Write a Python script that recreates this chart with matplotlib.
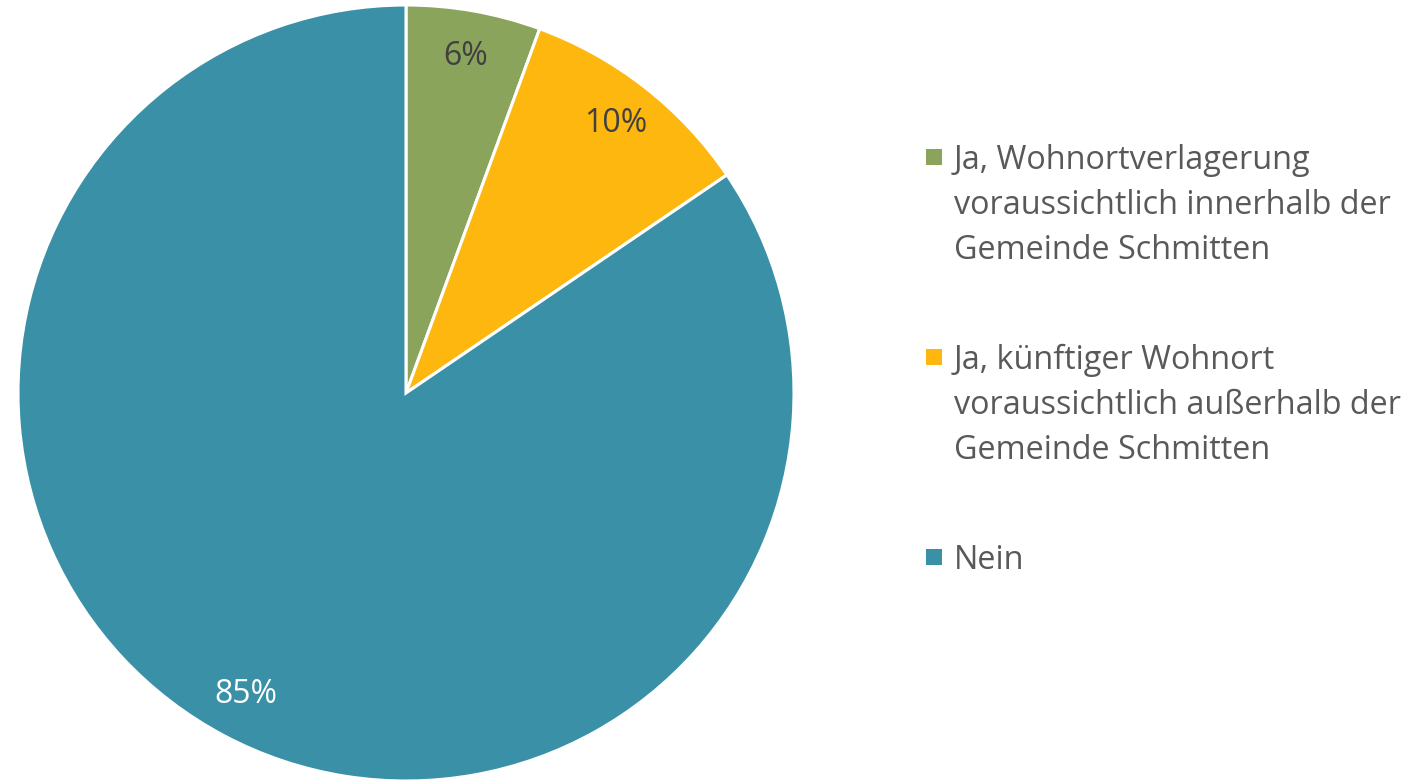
import matplotlib
matplotlib.use("Agg")
import matplotlib.pyplot as plt
from matplotlib.patches import Rectangle

# Data
categories = [
    "Ja, Wohnortverlagerung\nvoraussichtlich innerhalb der\nGemeinde Schmitten",
    "Ja, künftiger Wohnort\nvoraussichtlich außerhalb der\nGemeinde Schmitten",
    "Nein",
]
shares = [5.6, 9.9, 84.5]
pct_labels = ["6%", "10%", "85%"]
colors = ["#8BA45C", "#FDB70F", "#3A91A7"]
pct_colors = ["#404040", "#404040", "#FFFFFF"]

plt.rcParams['font.family'] = ['Open Sans', 'DejaVu Sans']

W, H = 1409, 781
fig = plt.figure(figsize=(W / 100, H / 100), dpi=100)

# pie centre (406, 393) px, radius 388 px
cx, cy, r = 406, 393, 388
ax = fig.add_axes([(cx - r) / W, (H - cy - r) / H, 2 * r / W, 2 * r / H])

wedges, texts, autotexts = ax.pie(
    shares, colors=colors, startangle=90, counterclock=False,
    autopct='%1.0f%%', pctdistance=0.88,
    wedgeprops=dict(edgecolor='white', linewidth=2.2),
    textprops=dict(fontsize=23),
)
for t, s, c in zip(autotexts, pct_labels, pct_colors):
    t.set_text(s)
    t.set_color(c)
ax.set_xlim(-1, 1)
ax.set_ylim(-1, 1)
ax.set_aspect('equal')

# legend, drawn by hand to keep the square on the first line
for i, (lab, col) in enumerate(zip(categories, colors)):
    y_mid = 157 + 200 * i
    fig.patches.append(Rectangle(((926) / W, (H - y_mid - 8) / H), 16 / W, 16 / H,
                                 transform=fig.transFigure, facecolor=col,
                                 edgecolor='none'))
    fig.text(954 / W, (H - y_mid + 13) / H, lab, ha='left', va='top',
             fontsize=23.3, color='#595959', linespacing=1.48)

fig.savefig("out.png", dpi=100)
